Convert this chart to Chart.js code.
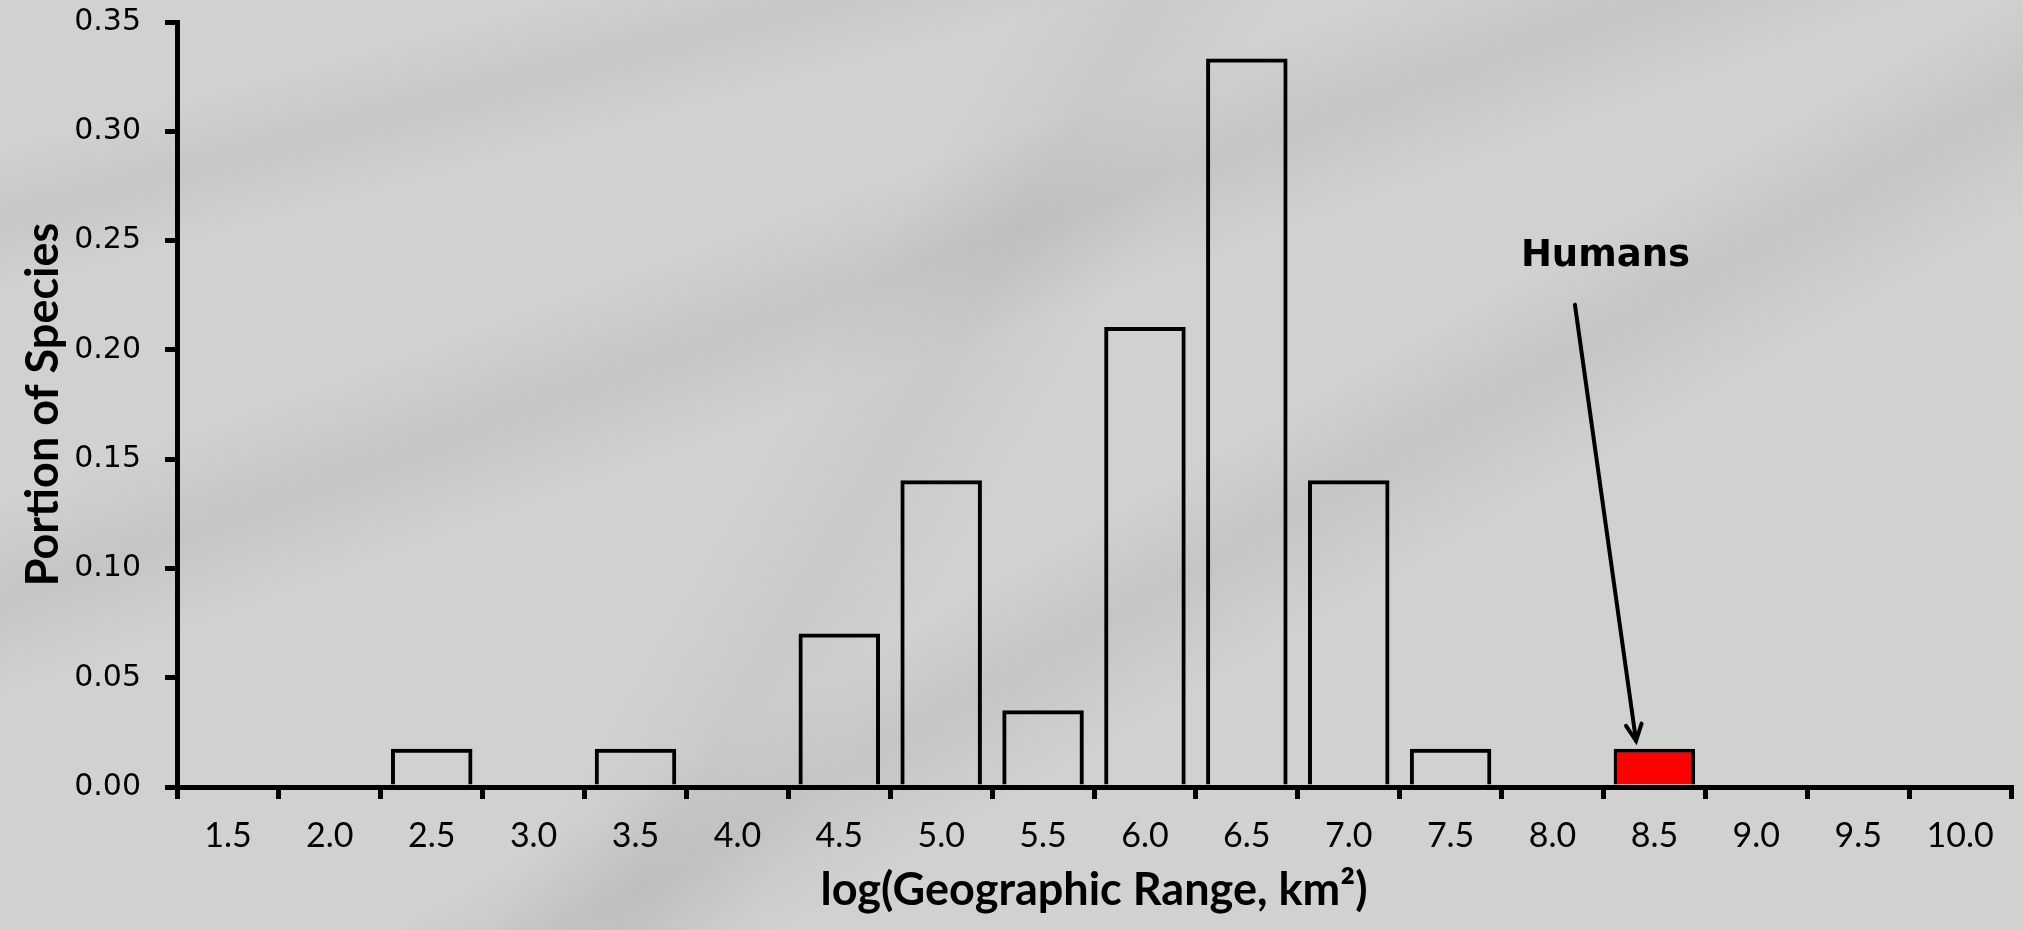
<!DOCTYPE html>
<html>
<head>
<meta charset="utf-8">
<script src="https://cdn.jsdelivr.net/npm/chart.js@4"></script>
<style>
html,body{margin:0;padding:0;width:2023px;height:930px;overflow:hidden;}
body{
  background-color:#d1d1d0;
  background-image:
    linear-gradient(160deg, rgba(0,0,0,0) 30%, rgba(110,110,110,0.12) 36%, rgba(0,0,0,0) 42%),
    linear-gradient(150deg, rgba(0,0,0,0) 55%, rgba(110,110,110,0.12) 60%, rgba(0,0,0,0) 66%),
    linear-gradient(165deg, rgba(0,0,0,0) 10%, rgba(110,110,110,0.10) 15%, rgba(0,0,0,0) 20%),
    linear-gradient(120deg, rgba(0,0,0,0) 40%, rgba(110,110,110,0.08) 45%, rgba(0,0,0,0) 50%);
}
#wrap{position:absolute;left:0;top:0;width:2023px;height:930px;}
</style>
</head>
<body>
<div id="wrap"><canvas id="c" width="2023" height="930"></canvas></div>
<script>
const categories = ['1.5','2.0','2.5','3.0','3.5','4.0','4.5','5.0','5.5','6.0','6.5','7.0','7.5','8.0','8.5','9.0','9.5','10.0'];
const portionOfSpecies = [0, 0, 0.0175, 0, 0.0175, 0, 0.0702, 0.1404, 0.0351, 0.2105, 0.3333, 0.1404, 0.0175, 0, 0.0175, 0, 0, 0];
const yTicks = [0, 0.05, 0.10, 0.15, 0.20, 0.25, 0.30, 0.35];
const humanCategory = '8.5';
const annotationText = 'Humans';
const xTitle = 'log(Geographic Range, km\u00B2)';
const yTitle = 'Portion of Species';

const humanIdx = categories.indexOf(humanCategory);
const fills = categories.map((c) => c === humanCategory ? '#ff0000' : 'rgba(0,0,0,0)');

const annotationPlugin = {
  id: 'humans',
  afterDatasetsDraw(chart) {
    const ctx = chart.ctx;
    const xs = chart.scales.x, ys = chart.scales.y;
    const cx = xs.getPixelForValue(humanIdx);
    const catW = xs.getPixelForValue(1) - xs.getPixelForValue(0);
    const tipX = cx - catW * 0.18;
    const tipY = ys.getPixelForValue(portionOfSpecies[humanIdx]) - 8;
    const startX = cx - catW * 0.78;
    const startY = ys.getPixelForValue(0.2207);
    ctx.save();
    ctx.strokeStyle = '#000';
    ctx.lineWidth = 4;
    ctx.lineCap = 'round';
    ctx.beginPath();
    ctx.moveTo(startX, startY);
    ctx.lineTo(tipX, tipY);
    ctx.stroke();
    const ang = Math.atan2(tipY - startY, tipX - startX);
    const L = 18, a = 0.45;
    ctx.beginPath();
    ctx.moveTo(tipX - L*Math.cos(ang - a), tipY - L*Math.sin(ang - a));
    ctx.lineTo(tipX, tipY);
    ctx.lineTo(tipX - L*Math.cos(ang + a), tipY - L*Math.sin(ang + a));
    ctx.stroke();
    ctx.fillStyle = '#000';
    ctx.font = 'bold 37px "DejaVu Sans"';
    ctx.textAlign = 'center';
    ctx.textBaseline = 'middle';
    ctx.fillText(annotationText, cx - catW * 0.48, ys.getPixelForValue(0.2427));
    ctx.restore();
  }
};

new Chart(document.getElementById('c'), {
  type: 'bar',
  data: {
    labels: categories,
    datasets: [{
      data: portionOfSpecies,
      backgroundColor: fills,
      borderColor: '#000',
      borderWidth: 4,
      borderSkipped: 'start',
      barPercentage: 0.8,
      categoryPercentage: 1.0
    }]
  },
  options: {
    responsive: false,
    animation: false,
    layout: { padding: { top: 22, right: 12, left: 0, bottom: 0 } },
    plugins: { legend: { display: false }, tooltip: { enabled: false } },
    scales: {
      x: {
        offset: true,
        border: { display: true, color: '#000', width: 5 },
        grid: { offset: true, drawOnChartArea: false, drawTicks: true, tickLength: 12, color: '#000', lineWidth: 5 },
        ticks: { color: '#000', font: { family: 'Lato', size: 34 }, padding: 17, maxRotation: 0, autoSkip: false },
        title: { display: true, text: xTitle, color: '#000', font: { family: 'Lato', size: 45, weight: 'bold' }, padding: { top: 6, bottom: 13 } },
        afterFit(s) { s.height = 143; }
      },
      y: {
        min: 0, max: 0.35,
        afterBuildTicks(s) { s.ticks = yTicks.map(v => ({ value: v })); },
        border: { display: true, color: '#000', width: 5 },
        grid: { drawOnChartArea: false, drawTicks: true, tickLength: 12, color: '#000', lineWidth: 5 },
        ticks: { color: '#000', font: { family: 'DejaVu Sans', size: 30 }, padding: 24, callback: (v) => Number(v).toFixed(2) },
        title: { display: true, text: yTitle, color: '#000', font: { family: 'Lato', size: 45, weight: 'bold' }, padding: { top: 16, bottom: 0 } },
        afterFit(s) { s.width = 177; s.paddingTop = 0; s.paddingBottom = 0; }
      }
    }
  },
  plugins: [annotationPlugin]
});
</script>
</body>
</html>
